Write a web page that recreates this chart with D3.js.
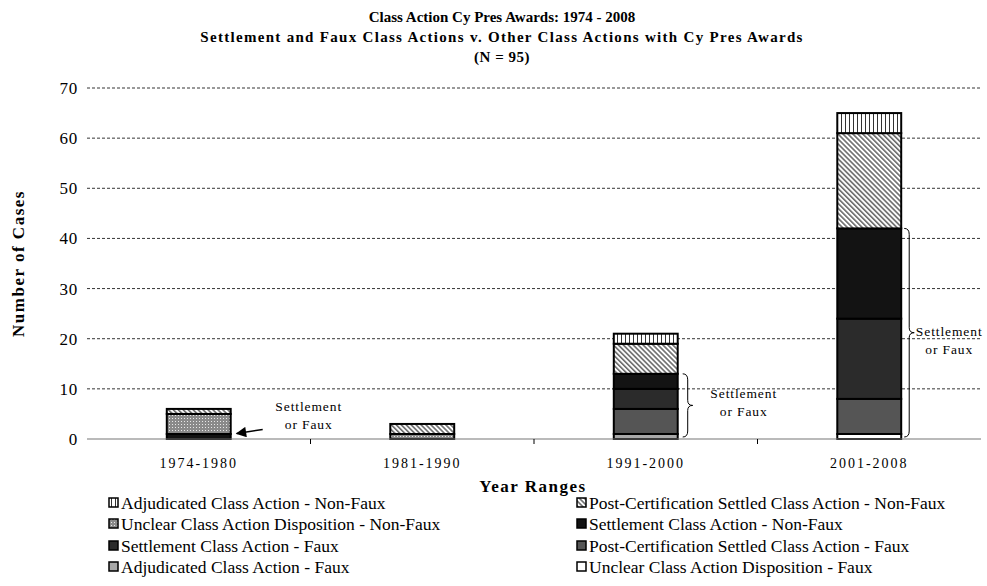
<!DOCTYPE html>
<html>
<head>
<meta charset="utf-8">
<script src="https://cdn.jsdelivr.net/npm/d3@7"></script>
<style>
  body { margin: 0; background: #fff; }
  svg { font-family: "Liberation Serif", "DejaVu Serif", serif; }
</style>
</head>
<body>
<div id="chart"></div>
<script>
'use strict';

const categories = ['1974-1980', '1981-1990', '1991-2000', '2001-2008'];

// series, legend order (Excel row-wise)
const adjudicatedNonFaux = [0, 0, 2, 4];
const postCertNonFaux = [1, 2, 6, 19];
const unclearNonFaux = [4, 1, 0, 0];
const settlementNonFaux = [1, 0, 3, 18];
const settlementFaux = [0, 0, 4, 16];
const postCertFaux = [0, 0, 5, 7];
const adjudicatedFaux = [0, 0, 1, 0];
const unclearFaux = [0, 0, 0, 1];

const seriesNames = [
    'Adjudicated Class Action - Non-Faux',
    'Post-Certification Settled Class Action - Non-Faux',
    'Unclear Class Action Disposition - Non-Faux',
    'Settlement Class Action - Non-Faux',
    'Settlement Class Action - Faux',
    'Post-Certification Settled Class Action - Faux',
    'Adjudicated Class Action - Faux',
    'Unclear Class Action Disposition - Faux'
];
const seriesValues = [adjudicatedNonFaux, postCertNonFaux, unclearNonFaux, settlementNonFaux,
    settlementFaux, postCertFaux, adjudicatedFaux, unclearFaux];
const yTicks = [0, 10, 20, 30, 40, 50, 60, 70];

const fills = ['url(#vstripe)', 'url(#hatch)', 'url(#dots)', '#131313', '#2b2b2b', '#555555', '#a8a8a8', '#ffffff'];

const width = 987, height = 586;
const margin = {top: 88, right: 6, bottom: 147, left: 87};

const svg = d3.select('#chart').append('svg')
    .attr('width', width)
    .attr('height', height);

// patterns
let defs = svg.append('defs');
let vs = defs.append('pattern').attr('id', 'vstripe').attr('patternUnits', 'userSpaceOnUse')
    .attr('width', 4).attr('height', 4);
vs.append('rect').attr('width', 4).attr('height', 4).attr('fill', '#fff');
vs.append('rect').attr('x', 1).attr('width', 1).attr('height', 4).attr('fill', '#333');

let hp = defs.append('pattern').attr('id', 'hatch').attr('patternUnits', 'userSpaceOnUse')
    .attr('width', 3.5).attr('height', 3.5).attr('patternTransform', 'rotate(-45)');
hp.append('rect').attr('width', 3.5).attr('height', 3.5).attr('fill', '#fff');
hp.append('rect').attr('width', 1.6).attr('height', 3.5).attr('fill', '#6a6a6a');

let dp = defs.append('pattern').attr('id', 'dots').attr('patternUnits', 'userSpaceOnUse')
    .attr('width', 3).attr('height', 3);
dp.append('rect').attr('width', 3).attr('height', 3).attr('fill', '#8a8a8a');
dp.append('rect').attr('x', 1).attr('y', 1).attr('width', 1).attr('height', 1).attr('fill', '#e8e8e8');

defs.append('marker').attr('id', 'arrow').attr('viewBox', '0 0 10 10')
    .attr('refX', 9).attr('refY', 5).attr('markerWidth', 9).attr('markerHeight', 7)
    .attr('orient', 'auto-start-reverse')
    .append('path').attr('d', 'M0,0 L10,5 L0,10 z').attr('fill', '#000');

const x = d3.scaleBand()
    .domain(categories)
    .range([margin.left, width - margin.right])
    .paddingInner(0.714)
    .paddingOuter(0.357);

const y = d3.scaleLinear()
    .domain([0, 70])
    .range([height - margin.bottom, margin.top]);

// gridlines
svg.append('g')
    .selectAll('line')
    .data(yTicks.filter(d => d > 0))
    .join('line')
    .attr('x1', margin.left).attr('x2', width - margin.right)
    .attr('y1', d => y(d)).attr('y2', d => y(d))
    .attr('stroke', '#000').attr('stroke-width', 0.8)
    .attr('stroke-dasharray', '3,2');

// y axis labels
let yAxis = svg.append('g')
    .attr('transform', `translate(${margin.left - 9},0)`)
    .call(d3.axisLeft(y).tickValues(yTicks).tickSize(0).tickPadding(0));
yAxis.select('.domain').remove();
yAxis.selectAll('text')
    .attr('font-family', '"Liberation Serif", serif')
    .attr('font-size', 17).attr('letter-spacing', '0.8px').attr('fill', '#000');

// stacked bars, bottom of stack = last legend entry
const rows = categories.map((c, i) => {
    let row = {category: c};
    seriesNames.forEach((s, j) => { row[s] = seriesValues[j][i]; });
    return row;
});
const stack = d3.stack().keys(seriesNames.slice().reverse());
const stacked = stack(rows);

svg.append('g')
    .selectAll('g')
    .data(stacked)
    .join('g')
    .attr('fill', d => fills[seriesNames.indexOf(d.key)])
    .selectAll('rect')
    .data(d => d.filter(p => p[1] - p[0] > 0))
    .join('rect')
    .attr('x', d => x(d.data.category))
    .attr('width', x.bandwidth())
    .attr('y', d => y(d[1]))
    .attr('height', d => y(d[0]) - y(d[1]))
    .attr('stroke', '#000')
    .attr('stroke-width', 2);

// x axis
let xAxis = svg.append('g')
    .attr('transform', `translate(0,${y(0)})`)
    .call(d3.axisBottom(x).tickSize(0).tickPadding(19));
xAxis.select('.domain').attr('stroke', '#777').attr('stroke-width', 1.2)
    .attr('d', `M${margin.left},0H${width - margin.right}`);
xAxis.selectAll('text')
    .attr('font-family', '"Liberation Serif", serif')
    .attr('font-size', 14).attr('letter-spacing', '2px').attr('fill', '#000');
// tick marks between categories
svg.append('g')
    .selectAll('line')
    .data(categories.slice(1))
    .join('line')
    .attr('x1', d => x(d) - (x.step() - x.bandwidth()) / 2)
    .attr('x2', d => x(d) - (x.step() - x.bandwidth()) / 2)
    .attr('y1', y(0)).attr('y2', y(0) + 5)
    .attr('stroke', '#000');

// titles
const titles = [
    'Class Action Cy Pres Awards: 1974 - 2008',
    'Settlement and Faux Class Actions v. Other Class Actions with Cy Pres Awards',
    '(N = 95)'
];
const titleSpacing = ['0px', '1.3px', '0.5px'];
svg.append('g')
    .selectAll('text')
    .data(titles)
    .join('text')
    .attr('x', 502)
    .attr('y', (d, i) => 22 + i * 20)
    .attr('text-anchor', 'middle')
    .attr('font-size', 15)
    .attr('font-weight', 'bold')
    .attr('letter-spacing', (d, i) => titleSpacing[i])
    .text(d => d);

svg.append('text')
    .attr('transform', `translate(24,${(y(0) + y(70)) / 2}) rotate(-90)`)
    .attr('text-anchor', 'middle')
    .attr('font-size', 17).attr('font-weight', 'bold').attr('letter-spacing', '1.5px')
    .text('Number of Cases');

svg.append('text')
    .attr('x', 533).attr('y', 492)
    .attr('text-anchor', 'middle')
    .attr('font-size', 17).attr('font-weight', 'bold').attr('letter-spacing', '1.5px')
    .text('Year Ranges');

// annotations
function brace(xPos, yTop, yBot) {
    let m = (yTop + yBot) / 2, w = 5;
    return `M${xPos},${yTop} Q${xPos + w},${yTop} ${xPos + w},${yTop + 6}` +
        ` L${xPos + w},${m - 5} Q${xPos + w},${m} ${xPos + 2 * w},${m}` +
        ` Q${xPos + w},${m} ${xPos + w},${m + 5}` +
        ` L${xPos + w},${yBot - 6} Q${xPos + w},${yBot} ${xPos},${yBot}`;
}
function note(cx, cy) {
    let t = svg.append('text').attr('font-size', 13.5).attr('text-anchor', 'middle')
        .attr('letter-spacing', '0.9px');
    t.append('tspan').attr('x', cx).attr('y', cy).text('Settlement');
    t.append('tspan').attr('x', cx).attr('y', cy + 18).text('or Faux');
}
let b3 = x('1991-2000') + x.bandwidth();
svg.append('path').attr('d', brace(b3 + 5, y(13), y(0) - 2))
    .attr('fill', 'none').attr('stroke', '#000').attr('stroke-width', 1);
note(b3 + 66, y(8.2));

let b4 = x('2001-2008') + x.bandwidth();
svg.append('path').attr('d', brace(b4 + 3, y(42), y(0) - 2))
    .attr('fill', 'none').attr('stroke', '#000').attr('stroke-width', 1);
note(b4 + 48, y(20.6));

let b1 = x('1974-1980') + x.bandwidth();
svg.append('line')
    .attr('x1', b1 + 32).attr('y1', y(1.9))
    .attr('x2', b1 + 6).attr('y2', y(1.1))
    .attr('stroke', '#000').attr('stroke-width', 1.5)
    .attr('marker-end', 'url(#arrow)');
note(b1 + 78, y(5.5));

// legend
const legendCols = [110, 578];
const legendRows = [503, 524, 546, 567];
let legend = svg.append('g')
    .selectAll('g')
    .data(seriesNames)
    .join('g')
    .attr('transform', (d, i) => `translate(${legendCols[i % 2]},${legendRows[Math.floor(i / 2)]})`);
legend.append('rect')
    .attr('x', -1).attr('y', -5).attr('width', 9).attr('height', 9)
    .attr('fill', (d, i) => fills[i])
    .attr('stroke', '#000').attr('stroke-width', 1.5);
legend.append('text')
    .attr('x', 11).attr('y', 5.5)
    .attr('font-size', 17.5)
    .text(d => d);
</script>
</body>
</html>
